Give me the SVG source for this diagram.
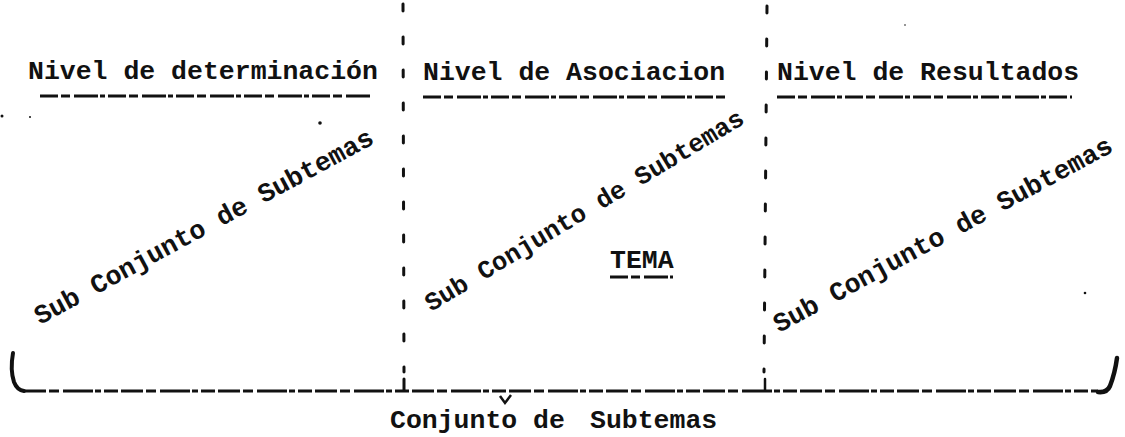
<svg xmlns="http://www.w3.org/2000/svg" width="1125" height="437" viewBox="0 0 1125 437">
  <style>
    .t { font-family: "Liberation Mono", "Courier New", monospace; font-weight: bold; font-size: 26.5px; fill: #111; }
    .ul { stroke: #111; stroke-width: 3; fill: none; stroke-dasharray: 18 3 9 4 24 2 5 3; }
    .vl { stroke: #111; stroke-width: 3; fill: none; stroke-dasharray: 7 26; stroke-linecap: round; }
    .hl { stroke: #111; stroke-width: 2.8; fill: none; stroke-dasharray: 22 3 10 4 30 2 6 3 14 3; }
    .br { stroke: #111; stroke-width: 4; fill: none; stroke-linecap: round; }
  </style>
  <rect width="1125" height="437" fill="#fff"/>

  <g id="connectors">
    <line class="vl" x1="403" y1="4" x2="404" y2="372"/>
    <line class="br" x1="404" y1="379" x2="404" y2="390" style="stroke-width:3"/>
    <line class="vl" x1="767" y1="6" x2="764" y2="372"/>
    <line class="br" x1="765" y1="379" x2="765" y2="390" style="stroke-width:2.5"/>
    <path class="br" d="M 13 353 Q 10 370 14 382 Q 17 390 24 391"/>
    <line class="hl" x1="24" y1="391" x2="1098" y2="391"/>
    <path class="br" d="M 1098 392 Q 1107 393 1110 386 Q 1115 373 1117 358" style="stroke-width:4.5"/>
    <path d="M 500 396 L 505 403 L 511 395" stroke="#111" stroke-width="2.5" fill="none"/>
  </g>

  <g id="nivel-determinacion">
    <text class="t" x="28" y="79">Nivel de determinación</text>
    <line class="ul" x1="40" y1="96" x2="372" y2="96"/>
    <text class="t" transform="translate(40 325) rotate(-28.5)" x="0" y="0">Sub Conjunto de Subtemas</text>
  </g>

  <g id="nivel-asociacion">
    <text class="t" x="423" y="80">Nivel de Asociacion</text>
    <line class="ul" x1="423" y1="97" x2="728" y2="97"/>
    <text class="t" style="font-size:25.5px" transform="translate(431 312) rotate(-31)" x="0" y="0">Sub Conjunto de Subtemas</text>
  </g>

  <g id="tema">
    <text class="t" x="610" y="268">TEMA</text>
    <line class="ul" x1="610" y1="277" x2="673" y2="277"/>
  </g>

  <g id="nivel-resultados">
    <text class="t" x="777" y="80">Nivel de Resultados</text>
    <line class="ul" x1="777" y1="97" x2="1072" y2="97"/>
    <text class="t" transform="translate(779 333) rotate(-28.5)" x="0" y="0">Sub Conjunto de Subtemas</text>
  </g>

  <g id="conjunto">
    <text class="t" x="390" y="428">Conjunto de<tspan x="590">Subtemas</tspan></text>
  </g>

  <g id="specks" fill="#111">
    <circle cx="320" cy="123" r="1.8"/>
    <circle cx="2" cy="116" r="1.5"/>
    <circle cx="30" cy="117" r="1"/>
    <circle cx="1085" cy="293" r="1.3"/>
    <circle cx="905" cy="25" r="0.8"/>
  </g>
</svg>
